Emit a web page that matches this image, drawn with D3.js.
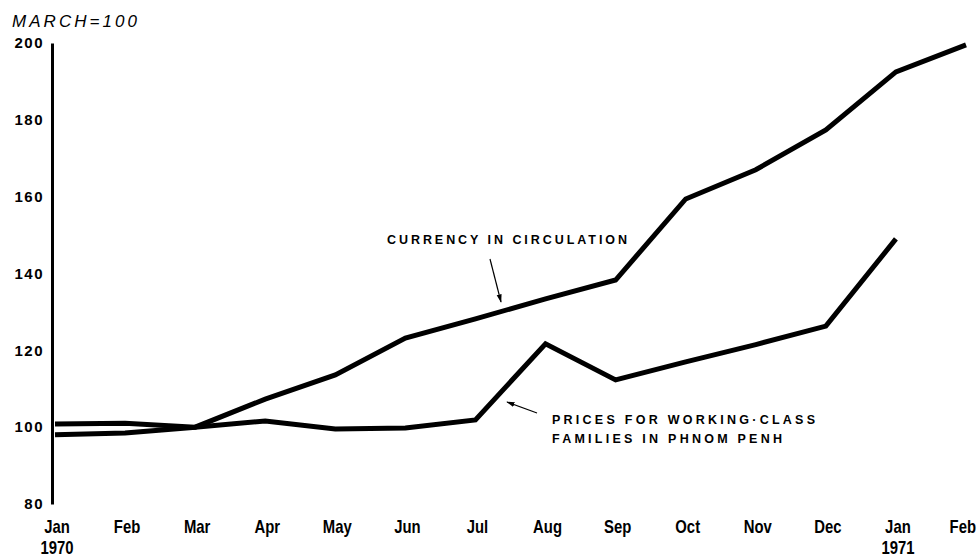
<!DOCTYPE html>
<meta charset="utf-8">
<style>
  body { margin: 0; background: #fff; }
  .ylab { font-family: "Liberation Sans", Arial, sans-serif; font-weight: bold; font-size: 15px; letter-spacing: 1.5px; }
  .mlab { font-family: "Liberation Sans", Arial, sans-serif; font-weight: bold; font-size: 17.5px; }
  .note { font-family: "Liberation Sans", Arial, sans-serif; font-weight: bold; font-size: 12.5px; }
  .series { fill: none; stroke: #000; stroke-width: 5; stroke-linejoin: miter; }
</style>
<body>
<script src="https://d3js.org/d3.v7.min.js"></script>
<script>

// chart values (index numbers, March 1970 = 100)
var months = ["Jan", "Feb", "Mar", "Apr", "May", "Jun", "Jul", "Aug", "Sep", "Oct", "Nov", "Dec", "Jan", "Feb"];
var years = ["1970", "", "", "", "", "", "", "", "", "", "", "", "1971", ""];
var currency = [98, 98.5, 100, 107.3, 113.6, 123.2, 128.2, 133.4, 138.3, 159.4, 167, 177.4, 192.5, 199.5];
var prices = [100.8, 101, 100, 101.6, 99.5, 99.8, 101.9, 121.7, 112.3, 117, 121.5, 126.3, 149];
var yTicks = [80, 100, 120, 140, 160, 180, 200];

var width = 978, height = 557;

var svg = d3.select("body").append("svg")
    .attr("width", width)
    .attr("height", height);

var x = d3.scaleLinear().domain([0, 13]).range([55, 966]);
var y = d3.scaleLinear().domain([80, 200]).range([504, 43]);

// y axis: heavy rule, no tick marks
var yAxis = svg.append("g")
    .attr("transform", "translate(52,0)")
    .call(d3.axisLeft(y).tickValues(yTicks).tickSize(0).tickSizeOuter(0).tickPadding(8));
yAxis.select(".domain").attr("stroke", "#000").attr("stroke-width", 3);
yAxis.selectAll("text").attr("class", "ylab").attr("fill", "#000").attr("font-size", null).attr("font-family", null);

svg.append("text")
    .attr("x", 12).attr("y", 27)
    .attr("textLength", 125)
    .style("font-family", "Liberation Sans, Arial, sans-serif")
    .style("font-style", "italic")
    .style("font-size", "17px")
    .text("MARCH=100");

// month labels, squeezed to a condensed look
function labelPos(i) {
  // last label is pushed in so it stays inside the frame
  return i === months.length - 1 ? width - 2 : x(i) + 2;
}

svg.append("g").selectAll("text")
    .data(months)
    .join("text")
    .attr("class", "mlab")
    .attr("text-anchor", function(d, i) { return i === months.length - 1 ? "end" : "middle"; })
    .attr("transform", function(d, i) { return "translate(" + labelPos(i) + ",533) scale(0.85,1)"; })
    .text(function(d) { return d; });

svg.append("g").selectAll("text")
    .data(years)
    .join("text")
    .attr("class", "mlab")
    .attr("text-anchor", "middle")
    .attr("transform", function(d, i) { return "translate(" + labelPos(i) + ",554) scale(0.85,1)"; })
    .text(function(d) { return d; });

var line = d3.line()
    .x(function(d, i) { return x(i); })
    .y(function(d) { return y(d); });

svg.append("path").datum(currency).attr("class", "series").attr("d", line);
svg.append("path").datum(prices).attr("class", "series").attr("d", line);

// annotations
svg.append("defs").append("marker")
    .attr("id", "head")
    .attr("viewBox", "0 0 10 10")
    .attr("refX", 9).attr("refY", 5)
    .attr("markerWidth", 7).attr("markerHeight", 7)
    .attr("orient", "auto")
    .append("path")
    .attr("d", "M0,2L10,5L0,8Z")
    .attr("fill", "#000");

svg.append("text")
    .attr("class", "note")
    .attr("x", 387).attr("y", 244)
    .attr("textLength", 240)
    .text("CURRENCY IN CIRCULATION");

svg.append("line")
    .attr("x1", 490).attr("y1", 259)
    .attr("x2", 501).attr("y2", 302)
    .attr("stroke", "#000").attr("stroke-width", 1.2)
    .attr("marker-end", "url(#head)");

svg.append("text")
    .attr("class", "note")
    .attr("x", 552).attr("y", 424)
    .attr("textLength", 263)
    .text("PRICES FOR WORKING\u00b7CLASS");

svg.append("text")
    .attr("class", "note")
    .attr("x", 552).attr("y", 443)
    .attr("textLength", 230)
    .text("FAMILIES IN PHNOM PENH");

svg.append("line")
    .attr("x1", 537).attr("y1", 413)
    .attr("x2", 507).attr("y2", 402)
    .attr("stroke", "#000").attr("stroke-width", 1.2)
    .attr("marker-end", "url(#head)");

</script>
</body>
</html>
